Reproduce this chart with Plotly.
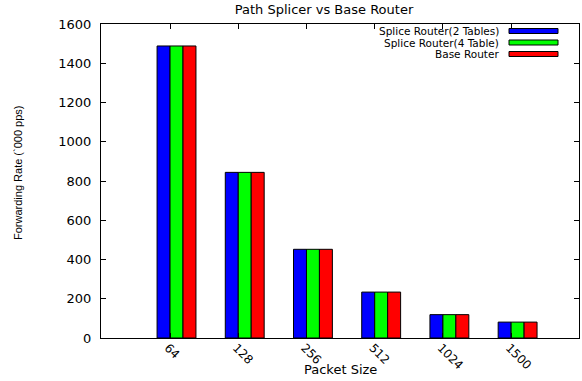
import plotly.graph_objects as go

# ---- data ----
packet_sizes = ["64", "128", "256", "512", "1024", "1500"]
series_names = ["Splice Router(2 Tables)", "Splice Router(4 Table)", "Base Router"]
splice2 = [1488, 844, 452, 234, 119, 81]
splice4 = [1488, 844, 452, 234, 119, 81]
base = [1488, 844, 452, 234, 119, 81]
colors = ["#0000ff", "#00ff00", "#ff0000"]
y_ticks = [0, 200, 400, 600, 800, 1000, 1200, 1400, 1600]

W, H = 582, 381
L, R, T, B = 101, 3, 24, 43
pw, ph = W - L - R, H - T - B

xpos = list(range(len(packet_sizes)))
fig = go.Figure()
for name, vals, c in zip(series_names, [splice2, splice4, base], colors):
    fig.add_trace(go.Bar(x=xpos, y=vals, name=name, marker=dict(color=c, line=dict(color="black", width=1)),
                         showlegend=False))

font = "DejaVu Sans, Verdana, sans-serif"
fig.update_layout(
    width=W, height=H, margin=dict(l=L, r=R, t=T, b=B),
    plot_bgcolor="white", paper_bgcolor="white",
    barmode="group", bargap=0.43, bargroupgap=0,
    font=dict(family=font, size=12, color="black"),
    title=dict(text="Path Splicer vs Base Router", x=324 / W, xanchor="center",
               y=1 - 9 / H, yanchor="middle", font=dict(size=13)),
    xaxis=dict(range=[-1.107, 5.9], tickmode="array", tickvals=[i - 0.095 for i in xpos],
               ticktext=packet_sizes, tickangle=45, ticks="inside", ticklen=5, tickcolor="black",
               showline=True, linecolor="black", linewidth=1, mirror="ticks", showgrid=False,
               zeroline=False, tickfont=dict(size=12), automargin=False,
               ticklabelshift=-2, ticklabelstandoff=-3),
    yaxis=dict(range=[0, 1600], tickmode="array", tickvals=y_ticks, ticks="inside", ticklen=5,
               tickcolor="black", showline=True, linecolor="black", linewidth=1, mirror="ticks",
               showgrid=False, zeroline=False, tickfont=dict(size=13), ticklabelstandoff=6,
               automargin=False),
)

fig.add_annotation(text="Packet Size", xref="paper", yref="paper", x=0.5, y=(338 - 369) / ph,
                   xanchor="center", yanchor="middle", showarrow=False, font=dict(size=13))

fig.add_annotation(text="Forwarding Rate (`000 pps)", textangle=-90, xref="paper", yref="paper",
                   x=(18 - L) / pw, y=(338 - 173) / ph, xanchor="center", yanchor="middle",
                   showarrow=False, font=dict(family="Liberation Sans Narrow, Arial Narrow, sans-serif", size=11))

# custom legend (text right-aligned, swatch on right)
row_y = [31, 42.5, 54]
for name, c, yp in zip(series_names, colors, row_y):
    yc = (338 - yp) / ph
    fig.add_annotation(text=name, xref="paper", yref="paper", x=(500 - L) / pw, y=yc,
                       xanchor="right", yanchor="middle", showarrow=False, font=dict(size=10.5),
                       borderpad=0)
    fig.add_shape(type="rect", xref="paper", yref="paper", x0=(509 - L) / pw, x1=(558 - L) / pw,
                  y0=yc - 2.5 / ph, y1=yc + 2.5 / ph, fillcolor=c, line=dict(color="black", width=1))

fig.write_html("out.html", config={"displayModeBar": False},
               post_script="document.body.style.margin='0';")
